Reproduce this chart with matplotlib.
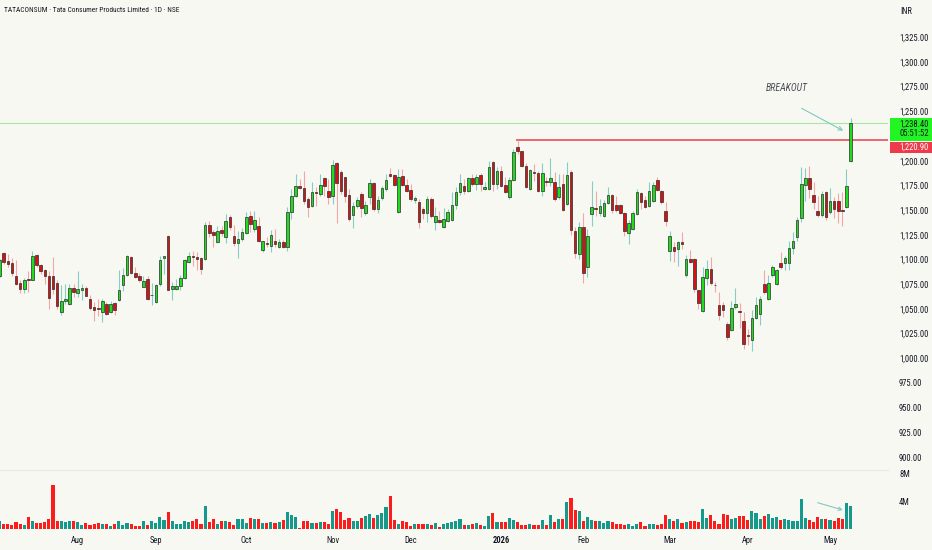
import matplotlib
matplotlib.use("Agg")
import matplotlib.pyplot as plt
from matplotlib.patches import Rectangle
from matplotlib.font_manager import fontManager, FontProperties
from matplotlib.textpath import TextPath
import numpy as np

# ---------------- data ----------------
opens = [
    1082.8, 1106.4, 1098.3, 1096.3, 1082.8, 1076.1, 1070.0, 1080.0, 1079.5, 1104.7,
    1094.6, 1088.9, 1083.8, 1082.8, 1076.4, 1046.5, 1057.9, 1054.6, 1071.4, 1066.0,
    1068.7, 1071.4, 1060.3, 1051.5, 1050.8, 1046.5, 1054.5, 1046.5, 1055.9, 1058.6,
    1074.4, 1084.5, 1102.3, 1086.2, 1083.8, 1072.0, 1080.5, 1063.6, 1056.9, 1075.4,
    1101.7, 1124.2, 1070.0, 1070.0, 1072.7, 1081.5, 1097.3, 1103.3, 1103.0, 1101.7,
    1100.7, 1135.0, 1127.6, 1118.2, 1130.0, 1122.6, 1143.4, 1124.2, 1116.5, 1120.9,
    1127.3, 1144.4, 1131.0, 1134.4, 1109.8, 1116.5, 1114.1, 1118.5, 1113.1, 1117.5,
    1112.5, 1147.8, 1164.6, 1174.7, 1172.4, 1161.3, 1153.9, 1167.7, 1166.3, 1182.2,
    1169.7, 1164.6, 1197.6, 1188.2, 1183.2, 1165.6, 1145.5, 1154.5, 1166.3, 1146.8,
    1163.6, 1177.1, 1151.2, 1162.3, 1171.4, 1186.5, 1185.9, 1147.8, 1184.9, 1175.8,
    1170.4, 1160.3, 1157.9, 1151.2, 1146.8, 1161.3, 1137.7, 1140.0, 1133.3, 1139.4,
    1140.0, 1155.5, 1168.0, 1174.7, 1169.0, 1182.2, 1176.4, 1185.5, 1171.4, 1171.4,
    1199.0, 1176.4, 1189.9, 1175.4, 1163.0, 1180.5, 1214.1, 1209.4, 1195.0, 1171.4,
    1188.2, 1187.2, 1169.0, 1178.8, 1178.1, 1178.1, 1163.0, 1176.4, 1156.2, 1188.2,
    1129.2, 1105.5, 1132.5, 1092.0, 1146.1, 1151.9, 1146.8, 1144.4, 1156.9, 1165.6,
    1155.5, 1155.2, 1146.8, 1126.6, 1131.0, 1146.1, 1167.0, 1160.3, 1154.5, 1159.6,
    1180.5, 1169.7, 1149.5, 1108.4, 1113.1, 1110.8, 1117.5, 1084.8, 1100.7, 1100.7,
    1069.4, 1047.8, 1081.5, 1090.6, 1074.4, 1053.5, 1053.5, 1035.0, 1029.0, 1051.9,
    1047.8, 1037.7, 1023.2, 1018.9, 1041.1, 1044.4, 1074.7, 1060.3, 1084.8, 1074.7,
    1096.3, 1096.3, 1096.3, 1111.8, 1122.6, 1142.1, 1175.8, 1182.5, 1165.6, 1148.8,
    1145.5, 1168.0, 1147.8, 1158.9, 1158.9, 1150.2, 1152.9, 1199.3,
]
highs = [
    1100.7, 1107.4, 1105.7, 1101.7, 1099.7, 1078.8, 1081.5, 1088.2, 1108.4, 1105.7,
    1095.6, 1090.6, 1088.2, 1103.0, 1078.8, 1073.7, 1075.4, 1075.4, 1075.4, 1088.2,
    1075.4, 1072.7, 1063.6, 1056.9, 1060.3, 1060.3, 1056.9, 1057.9, 1056.9, 1088.9,
    1091.6, 1105.0, 1104.0, 1092.3, 1086.2, 1082.8, 1083.8, 1076.1, 1075.4, 1104.0,
    1104.0, 1124.5, 1077.1, 1080.5, 1084.8, 1100.7, 1107.4, 1108.1, 1107.4, 1103.0,
    1137.7, 1139.4, 1130.0, 1134.4, 1134.4, 1146.1, 1145.5, 1135.4, 1129.3, 1132.0,
    1147.8, 1148.8, 1149.5, 1142.8, 1119.2, 1122.6, 1130.0, 1131.0, 1120.9, 1119.9,
    1152.9, 1171.4, 1186.5, 1181.5, 1189.2, 1163.0, 1178.1, 1173.1, 1186.5, 1183.2,
    1181.5, 1200.7, 1198.3, 1190.6, 1183.8, 1171.4, 1157.9, 1163.6, 1168.0, 1159.0,
    1181.5, 1178.1, 1164.6, 1174.7, 1186.5, 1192.6, 1186.5, 1191.6, 1191.6, 1181.5,
    1176.4, 1164.6, 1161.3, 1152.9, 1164.6, 1163.6, 1153.5, 1149.5, 1152.2, 1151.2,
    1168.0, 1173.1, 1186.5, 1181.5, 1183.8, 1186.5, 1186.5, 1187.2, 1178.1, 1199.3,
    1199.3, 1193.3, 1194.9, 1183.2, 1183.2, 1211.8, 1220.9, 1210.1, 1197.3, 1191.6,
    1196.6, 1189.9, 1197.6, 1183.2, 1202.7, 1188.2, 1186.5, 1186.5, 1198.3, 1190.6,
    1132.5, 1138.3, 1147.4, 1130.8, 1179.1, 1169.0, 1161.3, 1160.3, 1173.7, 1166.3,
    1164.6, 1156.2, 1147.8, 1140.0, 1149.5, 1171.4, 1168.0, 1164.6, 1178.1, 1178.1,
    1183.2, 1170.4, 1157.9, 1129.3, 1117.5, 1119.2, 1127.6, 1104.7, 1109.8, 1101.7,
    1069.4, 1092.3, 1099.0, 1102.3, 1077.1, 1067.0, 1056.9, 1036.7, 1057.9, 1071.4,
    1055.9, 1046.8, 1030.0, 1048.5, 1061.9, 1062.6, 1089.6, 1084.8, 1094.0, 1090.6,
    1107.4, 1104.0, 1119.2, 1127.6, 1143.4, 1193.3, 1192.6, 1195.0, 1178.1, 1164.6,
    1169.0, 1169.7, 1172.4, 1162.9, 1167.0, 1168.0, 1191.6, 1243.1,
]
lows = [
    1082.2, 1095.6, 1092.9, 1083.8, 1073.7, 1066.0, 1066.0, 1067.0, 1078.8, 1092.3,
    1085.5, 1075.4, 1050.2, 1064.7, 1050.2, 1043.4, 1054.6, 1053.5, 1062.0, 1062.0,
    1059.3, 1062.6, 1049.2, 1037.7, 1042.4, 1036.7, 1043.4, 1045.8, 1043.4, 1057.9,
    1068.0, 1083.8, 1085.5, 1081.5, 1077.1, 1072.0, 1058.6, 1053.5, 1055.9, 1072.7,
    1085.5, 1068.7, 1059.3, 1069.4, 1068.7, 1080.5, 1096.3, 1093.9, 1089.6, 1085.5,
    1099.7, 1123.2, 1113.1, 1116.5, 1124.2, 1116.5, 1130.0, 1114.1, 1101.7, 1119.2,
    1126.0, 1127.6, 1127.6, 1117.5, 1107.4, 1113.1, 1107.4, 1113.1, 1111.8, 1111.8,
    1108.4, 1141.1, 1163.6, 1171.4, 1156.2, 1142.8, 1153.5, 1154.6, 1164.6, 1164.6,
    1156.2, 1156.2, 1136.7, 1166.3, 1157.9, 1139.4, 1132.0, 1152.2, 1143.4, 1145.5,
    1156.2, 1149.5, 1146.8, 1160.3, 1169.7, 1183.2, 1174.7, 1146.8, 1174.7, 1168.0,
    1159.6, 1156.9, 1132.0, 1141.1, 1137.7, 1142.1, 1130.0, 1136.7, 1132.0, 1137.7,
    1139.4, 1151.2, 1165.6, 1166.3, 1168.0, 1174.7, 1170.4, 1169.0, 1170.4, 1170.4,
    1169.0, 1171.4, 1173.1, 1167.0, 1161.3, 1179.8, 1206.7, 1193.3, 1172.4, 1170.4,
    1179.8, 1168.0, 1164.6, 1174.7, 1174.7, 1159.6, 1161.3, 1148.8, 1155.5, 1125.0,
    1101.1, 1100.1, 1075.8, 1082.6, 1134.4, 1144.4, 1144.4, 1143.4, 1156.2, 1146.8,
    1147.8, 1146.1, 1124.2, 1115.8, 1130.0, 1145.5, 1151.2, 1152.2, 1153.5, 1157.9,
    1169.0, 1156.2, 1134.4, 1098.3, 1097.3, 1093.9, 1110.8, 1082.2, 1096.3, 1067.0,
    1050.2, 1046.8, 1073.7, 1073.7, 1067.0, 1038.4, 1041.8, 1018.2, 1027.6, 1050.2,
    1031.0, 1009.8, 1013.1, 1007.4, 1040.1, 1033.4, 1064.6, 1059.3, 1082.2, 1073.7,
    1090.6, 1089.6, 1089.6, 1105.7, 1119.2, 1137.7, 1158.9, 1162.3, 1151.2, 1143.4,
    1143.4, 1140.1, 1146.1, 1142.1, 1136.7, 1134.4, 1152.2, 1198.3,
]
closes = [
    1099.7, 1097.3, 1095.6, 1086.5, 1075.4, 1070.0, 1079.5, 1079.5, 1104.0, 1094.0,
    1088.2, 1082.8, 1061.0, 1070.0, 1052.5, 1057.9, 1060.3, 1071.4, 1067.0, 1069.7,
    1071.4, 1063.3, 1050.8, 1049.2, 1049.5, 1057.9, 1045.1, 1055.2, 1049.2, 1069.4,
    1084.5, 1104.0, 1086.2, 1082.2, 1079.5, 1078.1, 1060.3, 1064.3, 1074.4, 1099.7,
    1103.3, 1069.4, 1072.7, 1073.4, 1081.5, 1099.0, 1104.0, 1102.3, 1100.7, 1090.2,
    1135.0, 1127.3, 1125.0, 1128.6, 1126.6, 1138.7, 1132.7, 1116.5, 1120.9, 1127.6,
    1143.4, 1136.0, 1140.0, 1118.5, 1118.5, 1115.2, 1124.9, 1115.2, 1117.5, 1112.5,
    1147.8, 1164.6, 1174.7, 1172.4, 1158.9, 1152.9, 1168.0, 1167.0, 1175.4, 1174.1,
    1163.0, 1196.0, 1177.1, 1169.7, 1164.6, 1141.1, 1154.5, 1160.3, 1152.2, 1155.5,
    1177.1, 1151.2, 1160.3, 1172.0, 1180.5, 1184.2, 1175.8, 1183.8, 1175.8, 1169.7,
    1161.3, 1162.3, 1137.7, 1146.8, 1161.3, 1144.4, 1144.4, 1138.4, 1141.1, 1147.8,
    1155.5, 1168.0, 1177.4, 1169.0, 1182.2, 1176.4, 1183.8, 1176.4, 1173.7, 1193.3,
    1176.4, 1189.9, 1174.7, 1168.0, 1180.5, 1208.4, 1210.1, 1195.0, 1173.1, 1190.6,
    1187.2, 1169.0, 1187.2, 1178.1, 1182.5, 1161.3, 1173.1, 1150.5, 1185.9, 1130.0,
    1106.2, 1132.5, 1086.0, 1124.1, 1153.5, 1150.8, 1154.5, 1157.2, 1165.6, 1150.2,
    1150.5, 1147.1, 1129.3, 1137.0, 1146.8, 1168.0, 1157.9, 1153.5, 1169.7, 1175.8,
    1170.4, 1157.9, 1138.7, 1123.6, 1108.4, 1117.5, 1115.2, 1100.7, 1097.3, 1070.4,
    1055.9, 1082.2, 1090.6, 1076.1, 1073.7, 1043.4, 1048.5, 1021.6, 1051.2, 1055.2,
    1046.8, 1014.1, 1022.2, 1041.1, 1053.5, 1060.3, 1067.0, 1076.1, 1092.3, 1088.9,
    1092.3, 1101.7, 1111.8, 1118.5, 1140.0, 1176.4, 1182.5, 1171.4, 1157.9, 1145.5,
    1166.3, 1142.8, 1158.9, 1151.2, 1149.5, 1149.5, 1174.7, 1238.4,
]
volume_m = [
    1.25, 0.77, 0.77, 0.63, 1.06, 0.77, 0.58, 1.78, 1.25, 0.92,
    0.92, 1.01, 1.54, 6.36, 1.25, 1.25, 1.01, 1.25, 1.20, 1.06,
    0.67, 0.92, 0.58, 0.72, 0.92, 0.72, 0.72, 0.48, 0.77, 1.16,
    0.67, 0.87, 0.72, 0.48, 0.48, 1.25, 0.67, 1.16, 0.87, 1.73,
    1.35, 2.46, 1.16, 0.72, 0.77, 1.25, 1.06, 1.16, 1.54, 0.72,
    3.37, 1.06, 1.49, 0.77, 1.16, 1.16, 1.06, 0.63, 1.45, 1.45,
    0.87, 1.64, 1.54, 1.45, 0.96, 0.87, 1.06, 0.87, 1.06, 1.30,
    2.46, 2.07, 1.78, 0.14, 1.20, 1.16, 0.87, 0.87, 1.06, 1.01,
    0.77, 2.65, 2.89, 2.46, 1.40, 1.64, 1.25, 1.25, 1.64, 1.88,
    2.17, 1.69, 2.02, 2.31, 3.28, 4.87, 1.35, 0.77, 1.16, 1.06,
    0.48, 0.77, 0.77, 0.77, 0.77, 0.63, 0.96, 0.39, 0.72, 0.87,
    1.11, 1.25, 1.54, 0.63,
    0.63, 0.72, 0.92, 0.63, 0.43, 1.93, 2.31, 1.01, 1.01, 1.01,
    1.64, 1.30, 1.06, 0.63, 0.63, 0.72, 0.63, 0.63, 1.35, 0.63,
    2.07, 1.01, 1.54, 1.54, 3.95, 4.58, 2.84, 2.65, 1.25, 1.78,
    1.35, 1.20, 1.25, 0.92, 1.16, 1.11, 0.77, 0.72, 0.58, 0.77,
    0.48, 0.72, 1.06, 0.53, 0.72, 0.72, 0.58, 0.72, 2.07, 1.45,
    1.25, 1.45, 0.96, 1.06, 1.25, 1.16, 1.06, 2.89, 1.64, 2.07,
    1.16, 0.82, 2.22, 2.07, 1.45, 1.64, 1.93, 1.93, 1.35, 2.65,
    2.31, 1.45, 1.98, 2.26, 1.64, 1.73, 1.35, 1.45, 1.35, 1.16,
    1.16, 4.38, 1.64, 1.30, 1.06, 1.73, 1.45, 1.54, 1.35, 1.16,
    1.64, 1.54, 3.76, 3.37,
]
month_ticks = [19, 38, 60, 81, 100, 122, 142, 163, 182, 202]
month_labels = ["Aug", "Sep", "Oct", "Nov", "Dec", "2026", "Feb", "Mar", "Apr", "May"]
# 1,225.00 sits under the price labels in the original, so it is not shown
price_ticks = [900, 925, 950, 975, 1000, 1025, 1050, 1075, 1100, 1125, 1150,
               1175, 1200, 1250, 1275, 1300, 1325]
volume_ticks = [4, 8]
volume_tick_labels = ["4M", "8M"]
last_price = 1238.40
resistance = 1220.90
resistance_start = 126
countdown = "05:51:52"
title = "TATACONSUM · Tata Consumer Products Limited · 1D · NSE"
breakout_text_pos = (191.5, 1273.6)
breakout_arrow = ((195.1, 1253.0), (205.2, 1230.4))
volume_arrow = ((199.0, 3.84), (205.1, 2.79))

# ---------------- fonts ----------------
_names = {f.name for f in fontManager.ttflist}
FONT = next((n for n in ["Liberation Sans Narrow", "Roboto Condensed",
                         "Open Sans Condensed", "Roboto"] if n in _names), "DejaVu Sans")
plt.rcParams["font.family"] = [FONT, "DejaVu Sans"]


def fit(text, px, **kw):
    """font size (pt) so that the ink of `text` is about `px` pixels wide"""
    w = TextPath((0, 0), text, size=10, prop=FontProperties(family=FONT, **kw)).get_extents().width
    return 10 * px / (w * 100 / 72)


FS_AXIS = fit("1,325.00", 28.5)
FS_TITLE = fit(title, 173)
FS_MONTH = fit("Aug", 12.5)
FS_BREAK = fit("BREAKOUT", 42, style="italic")

# ---------------- style ----------------
BG = "#f8f8f3"
TXT = "#131722"
UP_BODY = "#1fdc1f"
DN_BODY = "#d81010"
EDGE = "#2b2b2b"
UP_WICK = "#86cdc4"
DN_WICK = "#f4a5a5"
VOL_UP = "#14998a"
VOL_DN = "#fb1c1c"
ARROW = "#7fc9bf"

W, H = 932, 550
PLOT_R = 888

fig = plt.figure(figsize=(W / 100, H / 100), dpi=100, facecolor=BG)
ax = fig.add_axes([0, 1 - 470 / H, PLOT_R / W, 470 / H])
axv = fig.add_axes([0, 1 - 529.3 / H, PLOT_R / W, (529.3 - 470) / H])
for a in (ax, axv):
    a.set_facecolor("none")
    for s in a.spines.values():
        s.set_visible(False)

o = np.array(opens)
h = np.array(highs)
l = np.array(lows)
c = np.array(closes)
v = np.array(volume_m)
idx = np.arange(len(o))
up = c >= o

ax.vlines(idx[up], l[up], h[up], color=UP_WICK, lw=0.8, zorder=2)
ax.vlines(idx[~up], l[~up], h[~up], color=DN_WICK, lw=0.8, zorder=2)
body_bottom = np.minimum(o, c)
body_h = np.maximum(np.abs(c - o), 0.9)
ax.bar(idx, body_h, bottom=body_bottom, width=0.62,
       color=np.where(up, UP_BODY, DN_BODY), edgecolor=EDGE, linewidth=0.5, zorder=3)

ax.set_xlim(0.1, 216.1)
ax.set_ylim(886.9, 1362.7)

# last price and resistance lines
ax.axhline(last_price, color="#a6e6a0", lw=0.8, zorder=1)
ax.hlines(resistance, resistance_start - 0.3, 216.1, color="#e5404e", lw=1.1, zorder=1)

# breakout annotation
ax.text(*breakout_text_pos, "BREAKOUT", style="italic", ha="center", va="center",
        fontsize=FS_BREAK, color="#4c4f59")
ax.annotate("", xy=breakout_arrow[1], xytext=breakout_arrow[0],
            arrowprops=dict(arrowstyle="->", color=ARROW, lw=0.8,
                            shrinkA=0, shrinkB=0, mutation_scale=7))

# price axis
ax.yaxis.tick_right()
ax.set_yticks(price_ticks)
ax.set_yticklabels([f"{p:,.2f}" for p in price_ticks])
ax.tick_params(axis="y", length=0, pad=8.0, labelsize=FS_AXIS, labelcolor=TXT)
ax.set_xticks([])

# volume
axv.bar(idx, v, width=0.75, color=np.where(up, VOL_UP, VOL_DN), zorder=2)
axv.set_xlim(0.1, 216.1)
axv.set_ylim(0, 8.57)
axv.spines["top"].set_visible(True)
axv.spines["top"].set_color("#ebebe5")
axv.spines["top"].set_linewidth(0.8)
axv.yaxis.tick_right()
axv.set_yticks(volume_ticks)
axv.set_yticklabels(volume_tick_labels)
axv.set_xticks(month_ticks)
axv.set_xticklabels(month_labels)
axv.tick_params(axis="y", length=0, pad=8.0, labelsize=FS_AXIS, labelcolor=TXT)
axv.tick_params(axis="x", length=0, pad=4.5, labelsize=FS_MONTH, labelcolor=TXT)
for lab in axv.get_xticklabels():
    if lab.get_text() == "2026":
        lab.set_fontweight("bold")
axv.annotate("", xy=volume_arrow[1], xytext=volume_arrow[0],
             arrowprops=dict(arrowstyle="->", color=ARROW, lw=0.8,
                             shrinkA=0, shrinkB=0, mutation_scale=6))

# header texts
fig.text(4 / W, 1 - 11 / H, title, ha="left", va="center", fontsize=FS_TITLE, color=TXT)
fig.text(900 / W, 1 - 11 / H, "INR", ha="left", va="center", fontsize=FS_AXIS, color=TXT)

# price labels on the scale
fig.add_artist(Rectangle((890 / W, 1 - 140.7 / H), 42 / W, 23 / H,
                         transform=fig.transFigure, facecolor="#22f522",
                         edgecolor="none", zorder=2))
fig.add_artist(Rectangle((890 / W, 1 - 153.3 / H), 42 / W, 11.6 / H,
                         transform=fig.transFigure, facecolor="#ef3a4b",
                         edgecolor="none", zorder=2))
fig.text(899 / W, 1 - 124 / H, f"{last_price:,.2f}", ha="left", va="center",
         fontsize=FS_AXIS, color=TXT, zorder=3)
fig.text(899 / W, 1 - 134 / H, countdown, ha="left", va="center",
         fontsize=FS_AXIS, color=TXT, zorder=3)
fig.text(899 / W, 1 - 147.5 / H, f"{resistance:,.2f}", ha="left", va="center",
         fontsize=FS_AXIS, color="white", zorder=3)

fig.savefig("out.png", dpi=100, facecolor=BG)
